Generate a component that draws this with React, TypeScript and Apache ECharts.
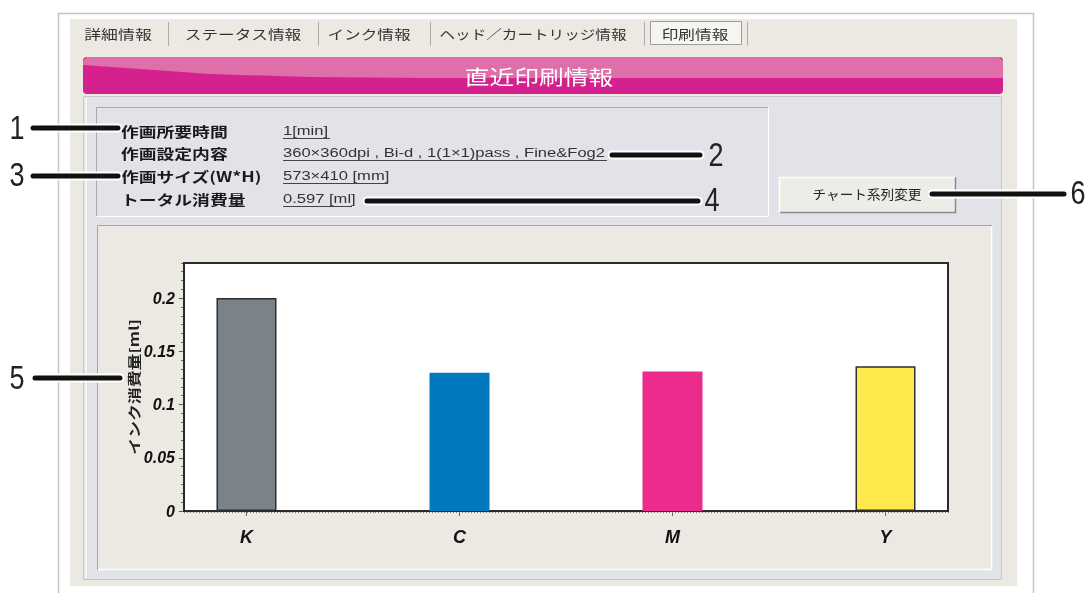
import React, { useEffect, useRef } from "react";
import * as echarts from "echarts";

// ---- data ----
const categories = ["K", "C", "M", "Y"];
const inkUsage = [0.2, 0.13, 0.131, 0.136];
const barColors = ["#7b8389", "#0079c1", "#ec2b8c", "#ffe84b"];
const barBorders = ["#2e2e2e", "#0079c1", "#ec2b8c", "#2e2e2e"];
const yAxisName = "インク消費量[ml]";
const tabs = ["詳細情報", "ステータス情報", "インク情報", "ヘッド／カートリッジ情報", "印刷情報"];
const headerTitle = "直近印刷情報";
const infoLabels = ["作画所要時間", "作画設定内容", "作画サイズ(W*H)", "トータル消費量"];
const infoValues = ["1[min]", "360×360dpi , Bi-d , 1(1×1)pass , Fine&Fog2", "573×410 [mm]", "0.597 [ml]"];
const buttonLabel = "チャート系列変更";
const calloutNumbers = ["1", "2", "3", "4", "5", "6"];

const CJK = "'Noto Sans CJK JP', sans-serif";

export default function App() {
  const ref = useRef<HTMLDivElement>(null);
  useEffect(() => {
    if (!ref.current) return;
    const chart = echarts.init(ref.current, null, { renderer: "svg" });

    const tabCenters = [118, 243, 369, 533, 695];
    const tabScale = [1.3, 1.28, 1.28, 1.2, 1.28];
    const tabSeps = [168, 318, 430, 644, 747];
    const infoY = [131, 153, 176, 199];
    const underlineEnds = [330, 607, 388, 352];

    const g: any[] = [];
    // outer frame
    g.push({ type: "rect", z: -20, shape: { x: 58.5, y: 13.5, width: 975, height: 600 }, style: { fill: "#ffffff", stroke: "#c4c4c4", lineWidth: 1.5 } });
    // beige panel
    g.push({ type: "rect", z: -19, shape: { x: 70, y: 19, width: 947, height: 567 }, style: { fill: "#ece9e3" } });
    // tabs
    g.push({ type: "rect", z: -18, shape: { x: 650.5, y: 21.5, width: 91, height: 23 }, style: { fill: "#f6f5f2", stroke: "#9c9c9c", lineWidth: 1 } });
    tabSeps.forEach((x) => g.push({ type: "line", z: -18, shape: { x1: x + 0.5, y1: 22, x2: x + 0.5, y2: 46 }, style: { stroke: "#aeaca6", lineWidth: 1 } }));
    tabs.forEach((t, i) =>
      g.push({ type: "text", z: -17, x: tabCenters[i], y: 33, scaleX: tabScale[i], style: { text: t, fontSize: 13, fontFamily: CJK, fill: "#333", align: "center", verticalAlign: "middle" } })
    );
    // magenta header bar
    g.push({ type: "rect", z: -16, shape: { x: 83, y: 57, width: 920, height: 37, r: 4 }, style: { fill: "#d4218e" } });
    g.push({
      type: "polygon", z: -15,
      shape: { points: [[87, 57], [999, 57], [1003, 61], [1003, 78], [430, 78], [310, 77], [210, 74], [140, 69], [83, 65], [83, 61]] },
      style: { fill: "#de6fa9" },
    });
    g.push({ type: "text", z: -14, x: 539, y: 76, scaleX: 1.24, style: { text: headerTitle, fontSize: 20, fontFamily: CJK, fill: "#ffffff", align: "center", verticalAlign: "middle" } });
    // light gray panel
    g.push({ type: "rect", z: -13, shape: { x: 83.5, y: 96.5, width: 918, height: 483 }, style: { fill: "#e2e3e8", stroke: "#c8c8cc", lineWidth: 1 } });
    g.push({ type: "line", z: -12, shape: { x1: 86, y1: 98, x2: 86, y2: 578 }, style: { stroke: "#f4f4f6", lineWidth: 2 } });
    // info box bevel
    g.push({ type: "polyline", z: -12, shape: { points: [[96.5, 216], [96.5, 107.5], [768, 107.5]] }, style: { stroke: "#a9a9ad", lineWidth: 1, fill: null } });
    g.push({ type: "polyline", z: -12, shape: { points: [[97, 216.5], [768.5, 216.5], [768.5, 107]] }, style: { stroke: "#ffffff", lineWidth: 1, fill: null } });
    // chart panel
    g.push({ type: "rect", z: -12, shape: { x: 97, y: 225, width: 895, height: 345 }, style: { fill: "#ece9e3" } });
    g.push({ type: "polyline", z: -11, shape: { points: [[97.5, 570], [97.5, 225.5], [992, 225.5]] }, style: { stroke: "#a8a8a8", lineWidth: 1, fill: null } });
    g.push({ type: "polyline", z: -11, shape: { points: [[98, 569.5], [991.5, 569.5], [991.5, 226]] }, style: { stroke: "#ffffff", lineWidth: 1.5, fill: null } });
    // button
    g.push({ type: "rect", z: -11, shape: { x: 779, y: 177, width: 176, height: 36 }, style: { fill: "#eeece6" } });
    g.push({ type: "polyline", z: -10, shape: { points: [[779.5, 212.5], [779.5, 177.5], [955, 177.5]] }, style: { stroke: "#ffffff", lineWidth: 1.5, fill: null } });
    g.push({ type: "polyline", z: -10, shape: { points: [[780, 212.5], [955.5, 212.5], [955.5, 177]] }, style: { stroke: "#8a8a8a", lineWidth: 1.5, fill: null } });
    g.push({ type: "text", z: -9, x: 867, y: 194, scaleX: 1.05, style: { text: buttonLabel, fontSize: 13, fontFamily: CJK, fill: "#222", align: "center", verticalAlign: "middle" } });
    // info labels / values
    infoLabels.forEach((t, i) => {
      g.push({ type: "text", z: -9, x: 121, y: infoY[i], scaleX: 1.27, style: { text: t, fontSize: 14, fontWeight: "bold", fontFamily: CJK, fill: "#1a1a1a", align: "left", verticalAlign: "middle" } });
    });
    infoValues.forEach((t, i) => {
      g.push({ type: "text", z: -9, x: 283, y: infoY[i], scaleX: 1.38, style: { text: t, fontSize: 12, fontFamily: "'Liberation Sans', sans-serif", fill: "#333", align: "left", verticalAlign: "middle" } });
      g.push({ type: "line", z: -9, shape: { x1: 283, y1: infoY[i] + 7.5, x2: underlineEnds[i], y2: infoY[i] + 7.5 }, style: { stroke: "#444", lineWidth: 1 } });
    });
    // y axis name (rotated)
    g.push({ type: "text", z: 50, x: 133, y: 387, rotation: Math.PI / 2, scaleX: 1.3, style: { text: yAxisName, fontSize: 13, fontWeight: "bold", fontFamily: CJK, fill: "#222", align: "center", verticalAlign: "middle" } });

    // callouts
    const callouts = [
      { n: calloutNumbers[0], nx: 17, ny: 128, x1: 33, x2: 118, y: 128 },
      { n: calloutNumbers[1], nx: 716, ny: 155, x1: 612, x2: 700, y: 155 },
      { n: calloutNumbers[2], nx: 17, ny: 175, x1: 33, x2: 118, y: 176 },
      { n: calloutNumbers[3], nx: 712, ny: 200, x1: 367, x2: 698, y: 201 },
      { n: calloutNumbers[4], nx: 17, ny: 378, x1: 35, x2: 120, y: 378 },
      { n: calloutNumbers[5], nx: 1078, ny: 193, x1: 932, x2: 1064, y: 194 },
    ];
    callouts.forEach((c) => {
      g.push({ type: "line", z: 100, shape: { x1: c.x1, y1: c.y, x2: c.x2, y2: c.y }, style: { stroke: "#ffffff", lineWidth: 9, lineCap: "round" } });
      g.push({ type: "line", z: 101, shape: { x1: c.x1, y1: c.y, x2: c.x2, y2: c.y }, style: { stroke: "#111111", lineWidth: 5, lineCap: "round" } });
      g.push({ type: "text", z: 102, x: c.nx, y: c.ny, scaleX: 0.82, style: { text: c.n, fontSize: 33, fontFamily: "'Liberation Sans', sans-serif", fill: "#222", align: "center", verticalAlign: "middle" } });
    });

    const labelFont = { fontFamily: "'Liberation Sans', Arial, sans-serif", fontWeight: "bold", fontStyle: "italic", color: "#111" };

    chart.setOption({
      animation: false,
      grid: { left: 184, right: 144, top: 263, bottom: 82, show: true, backgroundColor: "#ffffff", borderColor: "#2b2b2b", borderWidth: 2, z: 1 },
      graphic: { elements: g },
      xAxis: [
        {
          type: "value", min: -0.2934, max: 3.2934, position: "bottom",
          axisLine: { show: true, onZero: false, lineStyle: { color: "#2b2b2b", width: 2 } },
          axisTick: { show: true, customValues: [0, 1, 2, 3], length: 5, lineStyle: { color: "#666" } },
          axisLabel: { show: true, customValues: [0, 1, 2, 3], formatter: (v: number) => categories[Math.round(v)], fontSize: 18, margin: 17, ...labelFont },
          splitLine: { show: false },
        },
        {
          type: "value", min: 0, max: 255, interval: 1, position: "bottom",
          axisLine: { show: false, onZero: false },
          axisTick: { show: true, length: 2, lineStyle: { color: "#777" } },
          axisLabel: { show: false },
          splitLine: { show: false },
        },
      ],
      yAxis: [
        {
          type: "value", min: 0, max: 0.233, interval: 0.05, position: "left",
          axisLine: { show: true, onZero: false, lineStyle: { color: "#2b2b2b", width: 2 } },
          axisTick: { show: true, length: 5, lineStyle: { color: "#555" } },
          axisLabel: { show: true, showMaxLabel: false, margin: 9, fontSize: 16, ...labelFont },
          splitLine: { show: true, lineStyle: { type: [5, 5], color: "#9a9a9a", width: 1.5 } },
        },
        {
          type: "value", min: 0, max: 27.96, interval: 1, position: "left",
          axisLine: { show: false, onZero: false },
          axisTick: { show: true, length: 3, lineStyle: { color: "#666" } },
          axisLabel: { show: false },
          splitLine: { show: false },
        },
      ],
      series: [
        {
          type: "bar", xAxisIndex: 0, yAxisIndex: 0, barWidth: 60,
          data: inkUsage.map((v, i) => ({ value: [i, v], itemStyle: { color: barColors[i], borderColor: barBorders[i], borderWidth: 1.5 } })),
        },
      ],
    });
    return () => chart.dispose();
  }, []);
  return <div ref={ref} style={{ position: "fixed", left: 0, top: 0, width: 1092, height: 593 }} />;
}
